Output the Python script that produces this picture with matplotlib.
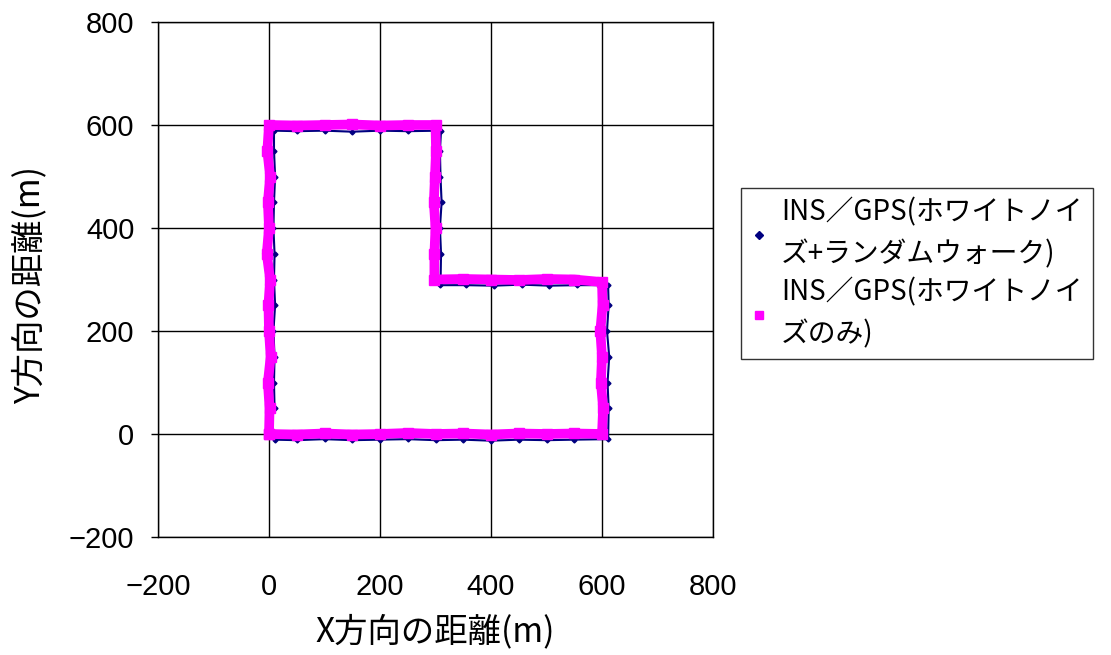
import numpy as np
import matplotlib.pyplot as plt
from matplotlib.lines import Line2D

plt.rcParams['font.family'] = ['Noto Sans CJK JP', 'DejaVu Sans']

# INS/GPS (white noise + random walk), points along the L-shaped course
rw_x = [10, 50, 100, 150, 200, 250, 300, 350, 400, 450, 500, 550, 611,
        612, 610, 613, 609, 612, 611,
        555, 505, 455, 405, 355, 309,
        310, 308, 311, 309, 308, 310,
        250, 200, 150, 100, 50, 9,
        9, 11, 9, 8, 10, 9, 11, 8, 10, 9, 10]
rw_y = [-11, -12, -10, -12, -11, -10, -12, -11, -13, -11, -12, -11, -10,
        50, 100, 150, 200, 250, 289,
        289, 288, 290, 288, 289, 289,
        350, 400, 450, 500, 550, 589,
        588, 589, 587, 589, 588, 589,
        550, 500, 450, 400, 350, 300, 250, 200, 150, 100, 50]

# INS/GPS (white noise only)
wn_x = [0, 50, 100, 150, 200, 250, 300, 350, 400, 450, 500, 550, 600,
        602, 598, 600, 597, 601, 600,
        550, 500, 450, 400, 350, 298,
        298, 300, 297, 299, 301, 300,
        250, 200, 150, 100, 50, 0,
        -3, 2, -2, 0, -4, 2, -1, 0, 3, -2, 1, 0]
wn_y = [0, -1, 1, -1, 0, 2, 0, 1, -1, 1, 0, 1, 0,
        50, 100, 150, 200, 250, 295,
        300, 301, 299, 300, 301, 300,
        350, 400, 450, 500, 550, 600,
        600, 599, 601, 600, 599, 600,
        550, 500, 450, 400, 350, 300, 250, 200, 150, 100, 50, 0]

labels = ['INS／GPS(ホワイトノイ\nズ+ランダムウォーク)',
          'INS／GPS(ホワイトノイ\nズのみ)']

fig = plt.figure(figsize=(11.11, 6.55), dpi=100)
ax = fig.add_axes([158 / 1111, 1 - 537 / 655, 555 / 1111, 515 / 655])

ax.plot(rw_x, rw_y, '-', color='#000080', lw=1.5, marker='D', ms=2.5, zorder=3)
ax.plot(wn_x, wn_y, '-', color='#FF00FF', lw=7, marker='s', ms=7.5,
        solid_joinstyle='miter', zorder=4)

ax.set_xlim(-200, 800)
ax.set_ylim(-200, 800)
ax.set_xticks(np.arange(-200, 801, 200))
ax.set_yticks(np.arange(-200, 801, 200))
ax.grid(True, color='black', lw=1)
ax.set_axisbelow(True)
for s in ax.spines.values():
    s.set_color('black')
    s.set_linewidth(1)
ax.tick_params(axis='y', direction='out', length=5, width=1, pad=12)
ax.tick_params(axis='x', length=0, pad=26)
for t in ax.get_xticklabels() + ax.get_yticklabels():
    t.set_fontfamily(['Liberation Sans'])
    t.set_fontsize(21)

ax.set_xlabel('X方向の距離(m)', fontsize=24)
ax.set_ylabel('Y方向の距離(m)', fontsize=24)
ax.xaxis.set_label_coords(0.5, -0.15)
ax.yaxis.set_label_coords(-0.2, 0.49)

handles = [Line2D([], [], ls='none', marker='D', color='#000080', ms=4),
           Line2D([], [], ls='none', marker='s', color='#FF00FF', ms=6)]
leg = fig.legend(handles, labels, loc='upper left',
                 bbox_to_anchor=(741 / 1111, 1 - 188 / 655),
                 fontsize=20, frameon=True, fancybox=False, edgecolor='black',
                 handlelength=0.6, handletextpad=0.5, borderpad=0.35,
                 labelspacing=0.3, borderaxespad=0)
leg.get_frame().set_linewidth(1)
for t in leg.get_texts():
    t.set_linespacing(1.5)

fig.savefig('out.png', dpi=100)
